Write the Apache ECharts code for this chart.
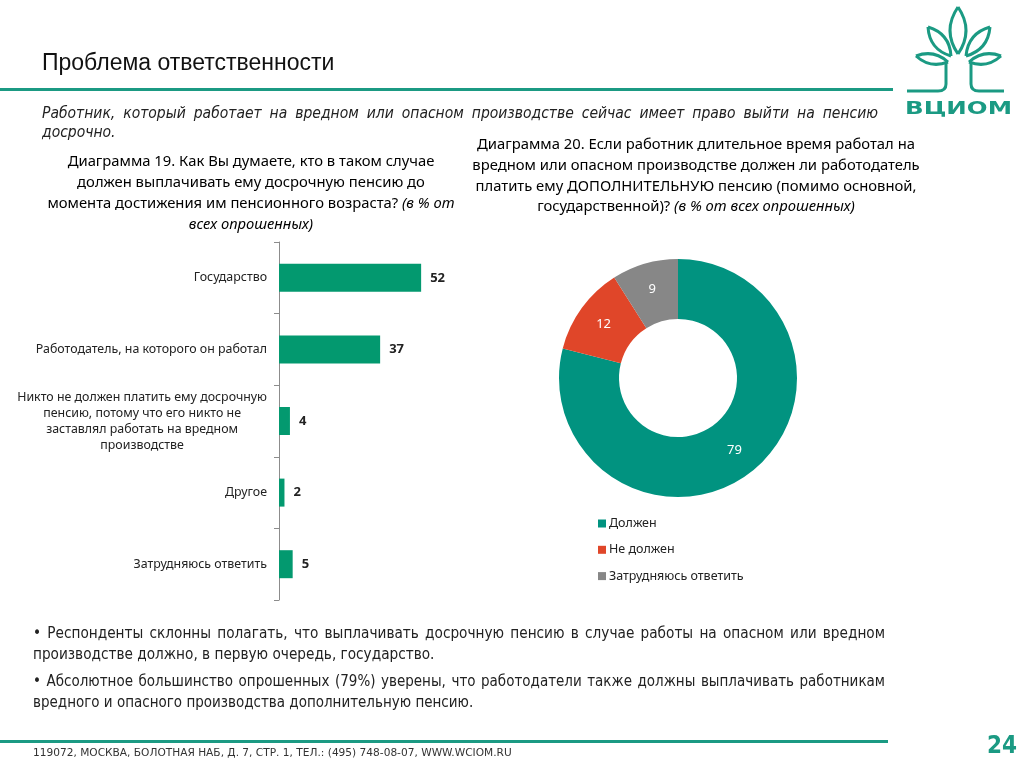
<!DOCTYPE html>
<html>
<head>
<meta charset="utf-8">
<script src="https://cdn.jsdelivr.net/npm/echarts@6/dist/echarts.min.js"></script>
<style>
  html,body{margin:0;padding:0;background:#fff;}
  #wrap{position:relative;width:1024px;height:768px;overflow:hidden;}
  #chart{position:absolute;left:0;top:0;width:1024px;height:768px;}
  .para{position:absolute;font-family:"Liberation Sans Narrow","DejaVu Sans Condensed",sans-serif;color:#222;text-align:justify;text-align-last:left;}
</style>
</head>
<body>
<div id="wrap">
  <div id="chart"></div>
  <div class="para" style="left:42px;top:104px;width:836px;font-size:15.5px;line-height:19px;font-style:italic;">Работник, который работает на вредном или опасном производстве сейчас имеет право выйти на пенсию досрочно.</div>
  <div class="para" style="left:33px;top:623px;width:852px;font-size:15.2px;line-height:21px;">• Респонденты склонны полагать, что выплачивать досрочную пенсию в случае работы на опасном или вредном производстве должно, в первую очередь, государство.</div>
  <div class="para" style="left:33px;top:671px;width:852px;font-size:15px;line-height:21px;">• Абсолютное большинство опрошенных (79%) уверены, что работодатели также должны выплачивать работникам вредного и опасного производства дополнительную пенсию.</div>
</div>
<script>
// ---- data ----
const categories = [
  'Государство',
  'Работодатель, на которого он работал',
  'Никто не должен платить ему досрочную\nпенсию, потому что его никто не\nзаставлял работать на вредном\nпроизводстве',
  'Другое',
  'Затрудняюсь ответить'
];
const barValues = [52, 37, 4, 2, 5];
const pieNames = ['Должен', 'Не должен', 'Затрудняюсь ответить'];
const pieValues = [79, 12, 9];

// ---- styles ----
const GREEN = '#1b9a83';
const BAR_GREEN = '#03996f';
const PIE_COLORS = ['#019380', '#e04629', '#878787'];
const TF = '"Noto Sans", sans-serif';

const chart = echarts.init(document.getElementById('chart'));

const logoStroke = { stroke: GREEN, lineWidth: 3, fill: null };
function leaf(x1, y1, x2, y2, bulge) {
  const mx = (x1 + x2) / 2, my = (y1 + y2) / 2;
  const dx = x2 - x1, dy = y2 - y1;
  const len = Math.sqrt(dx * dx + dy * dy);
  const nx = -dy / len * bulge, ny = dx / len * bulge;
  return [
    { type: 'bezierCurve', shape: { x1: x1, y1: y1, x2: x2, y2: y2, cpx1: mx + nx, cpy1: my + ny }, style: logoStroke },
    { type: 'bezierCurve', shape: { x1: x1, y1: y1, x2: x2, y2: y2, cpx1: mx - nx, cpy1: my - ny }, style: logoStroke }
  ];
}
const logo = [].concat(
  leaf(958, 7, 958, 54, 16),
  leaf(928, 27, 951, 56, 13),
  leaf(990, 27, 966, 56, 13),
  leaf(916, 56, 948, 62, 10),
  leaf(1001, 56, 969, 62, 10),
  [
    { type: 'line', shape: { x1: 946, y1: 62, x2: 946, y2: 84 }, style: logoStroke },
    { type: 'line', shape: { x1: 971, y1: 62, x2: 971, y2: 84 }, style: logoStroke },
    { type: 'bezierCurve', shape: { x1: 946, y1: 84, x2: 938, y2: 91, cpx1: 946, cpy1: 91 }, style: logoStroke },
    { type: 'bezierCurve', shape: { x1: 971, y1: 84, x2: 979, y2: 91, cpx1: 971, cpy1: 91 }, style: logoStroke },
    { type: 'line', shape: { x1: 938, y1: 91, x2: 907, y2: 91 }, style: logoStroke },
    { type: 'line', shape: { x1: 979, y1: 91, x2: 1004, y2: 91 }, style: logoStroke },
    { type: 'text', x: 905, y: 100, scaleX: 1.36, style: { text: 'ВЦИОМ', font: 'bold 18px "DejaVu Sans", sans-serif', fill: GREEN } }
  ]
);

function titleLine(x, y, parts) {
  return {
    type: 'text', x: x, y: y,
    style: {
      text: parts.map(p => '{' + p[0] + '|' + p[1] + '}').join(''),
      align: 'center', verticalAlign: 'middle',
      rich: {
        g: { fontFamily: TF, fontSize: 14.8, color: '#888888' },
        q: { fontFamily: TF, fontSize: 14.8, color: '#555555' },
        i: { fontFamily: TF, fontSize: 14.8, color: '#888888', fontStyle: 'italic' }
      }
    }
  };
}

const graphics = [
  { type: 'text', x: 42, y: 52, style: { text: 'Проблема ответственности', font: '23px "Liberation Sans", Arial, sans-serif', fill: '#111' } },
  { type: 'rect', shape: { x: 0, y: 88, width: 893, height: 3 }, style: { fill: GREEN } },
  titleLine(251, 162, [['g', 'Диаграмма 19. '], ['q', 'Как Вы думаете, кто в таком случае']]),
  titleLine(251, 183, [['q', 'должен выплачивать ему досрочную пенсию до']]),
  titleLine(251, 204, [['q', 'момента достижения им пенсионного возраста? '], ['i', '(в % от']]),
  titleLine(251, 225, [['i', 'всех опрошенных)']]),
  titleLine(696, 145, [['g', 'Диаграмма 20. '], ['q', 'Если работник длительное время работал на']]),
  titleLine(696, 166, [['q', 'вредном или опасном производстве должен ли работодатель']]),
  titleLine(696, 187, [['q', 'платить ему ДОПОЛНИТЕЛЬНУЮ пенсию (помимо основной,']]),
  titleLine(696, 207, [['q', 'государственной)? '], ['i', '(в % от всех опрошенных)']]),
  { type: 'rect', shape: { x: 0, y: 740, width: 888, height: 3 }, style: { fill: GREEN } },
  { type: 'text', x: 33, y: 748, style: { text: '119072, МОСКВА, БОЛОТНАЯ НАБ, Д. 7, СТР. 1, ТЕЛ.: (495) 748-08-07, WWW.WCIOM.RU', font: '10.6px "DejaVu Sans", sans-serif', fill: '#333' } },
  { type: 'text', x: 987, y: 735, style: { text: '24', font: 'bold 24px "Liberation Sans Narrow", "DejaVu Sans Condensed", sans-serif', fill: GREEN } }
].concat(logo);

const option = {
  animation: false,
  backgroundColor: '#fff',
  graphic: { elements: graphics },
  grid: { left: 279, top: 242, width: 164, height: 358, containLabel: false },
  xAxis: { type: 'value', min: 0, max: 60, show: false, splitLine: { show: false } },
  yAxis: {
    type: 'category', data: categories, inverse: true,
    axisLine: { show: true, lineStyle: { color: '#8c8c8c', width: 1 } },
    axisTick: { show: true, length: 5, lineStyle: { color: '#8c8c8c' } },
    axisLabel: {
      margin: 12,
      formatter: v => v.split('\n').map(l => '{c|' + l + '}').join('\n'),
      rich: { c: { align: 'center', fontFamily: TF, fontSize: 12.4, lineHeight: 16, color: '#222' } }
    }
  },
  legend: {
    orient: 'vertical', left: 593, top: 512, itemWidth: 8, itemHeight: 8, itemGap: 13.3,
    icon: 'rect', data: pieNames,
    textStyle: { fontFamily: TF, fontSize: 12.5, color: '#222', padding: [0, 0, 0, -2] }
  },
  series: [
    {
      type: 'bar', data: barValues, barWidth: 28,
      itemStyle: { color: BAR_GREEN },
      label: { show: true, position: 'right', distance: 9, fontFamily: TF, fontSize: 13, fontWeight: 'bold', color: '#222' }
    },
    {
      type: 'pie', center: [678, 378], radius: [59, 119], startAngle: 90, clockwise: true,
      data: pieNames.map((n, i) => ({ name: n, value: pieValues[i], itemStyle: { color: PIE_COLORS[i] } })),
      label: { show: true, position: 'inside', formatter: '{c}', fontFamily: TF, fontSize: 13, color: '#fff' },
      labelLine: { show: false },
      itemStyle: { borderWidth: 0 },
      emphasis: { disabled: true }
    }
  ]
};
chart.setOption(option);
</script>
</body>
</html>
